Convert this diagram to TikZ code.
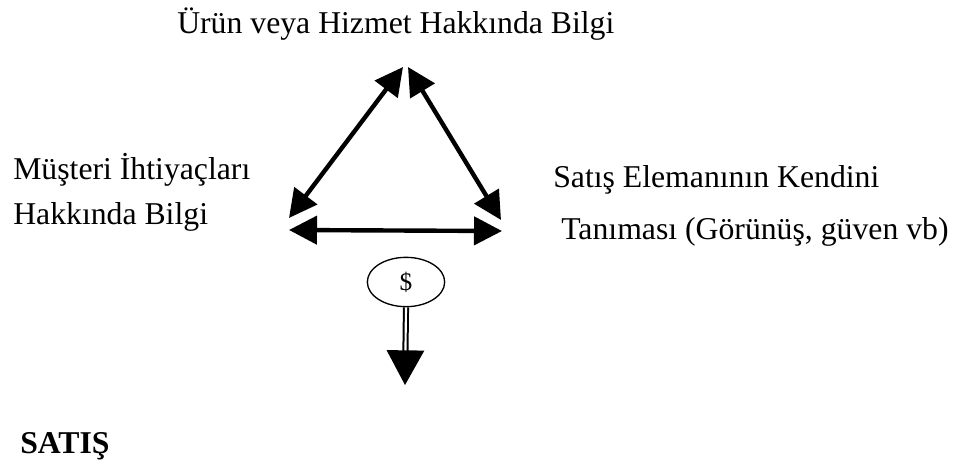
\documentclass[tikz,border=0pt]{standalone}
\usepackage{fontspec}
\setmainfont{Liberation Serif}
\usetikzlibrary{arrows.meta, positioning, shapes.geometric}

\tikzset{
    txt/.style={inner sep=0pt, anchor=base west, font=\fontsize{23.8}{28}\selectfont},
    link/.style={line width=3.3pt, {Triangle[length=21pt, width=21pt]}-{Triangle[length=21pt, width=21pt]}},
    money/.style={ellipse, draw, line width=1pt, minimum width=58pt, minimum height=37pt, inner sep=0pt, font=\fontsize{19}{22}\selectfont}
}

\begin{document}
\begin{tikzpicture}[x=0.75pt, y=-0.75pt]
\useasboundingbox (0,0) rectangle (962,465);

% texts
\node (product) [txt] at (177,33) {Ürün veya Hizmet Hakkında Bilgi};
\node (need1) [txt] at (13,179) {Müşteri İhtiyaçları};
\node (need2) [txt] at (13,224) {Hakkında Bilgi};
\node (self1) [txt] at (553,187) {Satış Elemanının Kendini};
\node (self2) [txt] at (561,239) {Tanıması (Görünüş, güven vb)};
\node (sale) [txt, font=\fontsize{23.8}{28}\selectfont\bfseries] at (20,453) {SATIŞ};

% triangle of arrows
\coordinate (topL) at (403,67);
\coordinate (topR) at (408,67);
\coordinate (botL) at (289,218);
\coordinate (botR) at (501,220);
\coordinate (midL) at (289,230);
\coordinate (midR) at (502,231);
\draw [link] (topL) -- (botL);
\draw [link] (topR) -- (botR);
\draw [link] (midL) -- (midR);

% dollar and the arrow down
\node (dollar) [money] at (406,282) {\$};
\coordinate (down) at (405,385);
\draw [double, double distance=1.6pt, line width=1.5pt, -{Triangle[length=26pt, width=28pt]}] (dollar.south) -- (down);

\end{tikzpicture}
\end{document}
